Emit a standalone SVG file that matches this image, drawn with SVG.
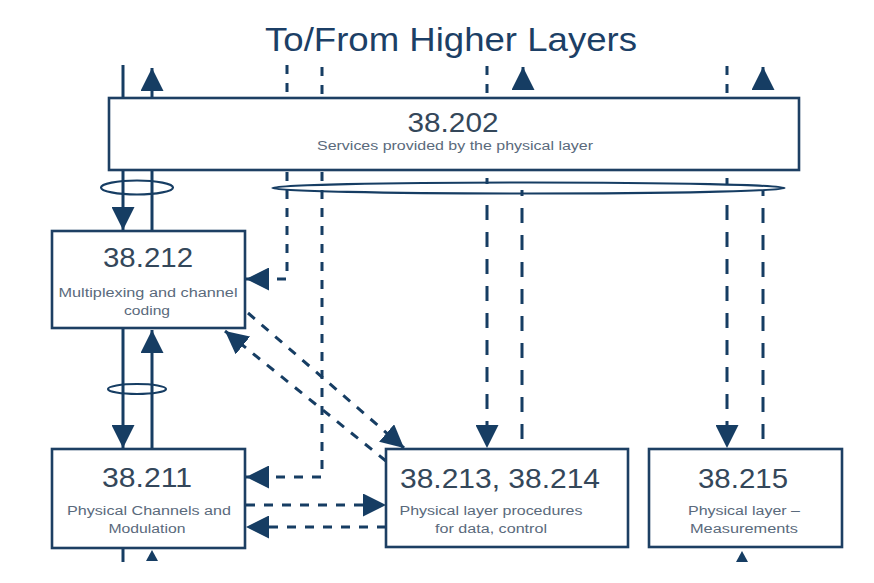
<svg xmlns="http://www.w3.org/2000/svg" width="874" height="583" viewBox="0 0 874 583">
<style>
.box{fill:#fff;stroke:#1d3f63;stroke-width:2.6}
.ln{fill:none;stroke:#163d63;stroke-width:3}
.sd{stroke-dasharray:9 9}
.ld{stroke-dasharray:15 12}
.el{fill:none;stroke:#163d63;stroke-width:2.2}
.num{font-family:"Liberation Sans",Arial,sans-serif;font-size:28px;fill:#34475a;text-anchor:middle}
.sub{font-family:"Liberation Sans",Arial,sans-serif;font-size:12px;fill:#5a6a7c;text-anchor:middle}
.title{font-family:"Liberation Sans",Arial,sans-serif;font-size:34px;fill:#1c3f66;text-anchor:middle}
.tri{fill:#163d63}
</style>
<defs>
<marker id="arr" markerUnits="userSpaceOnUse" markerWidth="23" markerHeight="23" viewBox="0 0 23 23" refX="23" refY="11.5" orient="auto">
<path d="M0,0 L23,11.5 L0,23 z" fill="#163d63"/>
</marker>
</defs>
<rect width="874" height="583" fill="#fff"/>
<text class="title" x="451" y="51" textLength="372" lengthAdjust="spacingAndGlyphs">To/From Higher Layers</text>
<g id="connectors">
<line class="ln" x1="123" y1="65" x2="123" y2="98"/>
<line class="ln" x1="152" y1="98" x2="152" y2="68" marker-end="url(#arr)"/>
<line class="ln sd" x1="287" y1="65" x2="287" y2="98"/>
<line class="ln sd" x1="322" y1="67" x2="322" y2="98"/>
<line class="ln sd" x1="487" y1="66" x2="487" y2="98"/>
<line class="ln" x1="523" y1="90" x2="523" y2="67" marker-end="url(#arr)"/>
<line class="ln sd" x1="727" y1="66" x2="727" y2="98"/>
<line class="ln" x1="763" y1="90" x2="763" y2="67" marker-end="url(#arr)"/>
<line class="ln" x1="123" y1="170" x2="123" y2="230" marker-end="url(#arr)"/>
<line class="ln" x1="152" y1="230" x2="152" y2="170"/>
<ellipse class="el" cx="137" cy="187.5" rx="36" ry="7"/>
<polyline class="ln sd" points="287,172 287,279 246,279" marker-end="url(#arr)"/>
<polyline class="ln sd" points="322,172 322,477 246,477" marker-end="url(#arr)"/>
<line class="ln" x1="487" y1="178" x2="487" y2="184"/>
<line class="ln" x1="727" y1="178" x2="727" y2="184"/>
<line class="ln" x1="522" y1="190" x2="522" y2="196"/>
<line class="ln" x1="763" y1="190" x2="763" y2="196"/>
<line class="ln ld" x1="487" y1="205" x2="487" y2="448" marker-end="url(#arr)"/>
<line class="ln ld" x1="522" y1="208" x2="522" y2="449"/>
<line class="ln ld" x1="727" y1="205" x2="727" y2="448" marker-end="url(#arr)"/>
<line class="ln ld" x1="763" y1="208" x2="763" y2="449"/>
<ellipse class="el" cx="528.5" cy="188" rx="256" ry="5.5"/>
<line class="ln" x1="123" y1="328" x2="123" y2="448" marker-end="url(#arr)"/>
<line class="ln" x1="152" y1="449" x2="152" y2="330" marker-end="url(#arr)"/>
<ellipse class="el" cx="137" cy="389" rx="29" ry="5"/>
<line class="ln sd" x1="248" y1="313" x2="404" y2="448" marker-end="url(#arr)"/>
<line class="ln sd" x1="386" y1="461" x2="225" y2="331" marker-end="url(#arr)"/>
<line class="ln sd" x1="246" y1="505" x2="386" y2="505" marker-end="url(#arr)"/>
<line class="ln sd" x1="386" y1="527" x2="246" y2="527" marker-end="url(#arr)"/>
<line class="ln" x1="123" y1="548" x2="123" y2="562"/>
<polygon class="tri" points="146,561 158,561 152,550"/>
<polygon class="tri" points="736,562 748,562 742,551"/>
</g>
<g id="n38202">
<rect class="box" x="109" y="98" width="690" height="72"/>
<text class="num" x="453" y="132" textLength="91" lengthAdjust="spacingAndGlyphs">38.202</text>
<text class="sub" x="455" y="150" textLength="276" lengthAdjust="spacingAndGlyphs">Services provided by the physical layer</text>
</g>
<g id="n38212">
<rect class="box" x="52" y="231" width="193" height="97"/>
<text class="num" x="148" y="267" textLength="90" lengthAdjust="spacingAndGlyphs">38.212</text>
<text class="sub" x="148" y="297" textLength="179" lengthAdjust="spacingAndGlyphs">Multiplexing and channel</text>
<text class="sub" x="147" y="315" textLength="46" lengthAdjust="spacingAndGlyphs">coding</text>
</g>
<g id="n38211">
<rect class="box" x="52" y="449" width="193" height="99"/>
<text class="num" x="147" y="487" textLength="90" lengthAdjust="spacingAndGlyphs">38.211</text>
<text class="sub" x="149" y="515" textLength="164" lengthAdjust="spacingAndGlyphs">Physical Channels and</text>
<text class="sub" x="147" y="533" textLength="77" lengthAdjust="spacingAndGlyphs">Modulation</text>
</g>
<g id="n38213">
<rect class="box" x="386" y="449" width="242" height="98"/>
<text class="num" x="500" y="488" textLength="200" lengthAdjust="spacingAndGlyphs">38.213, 38.214</text>
<text class="sub" x="491" y="515" textLength="183" lengthAdjust="spacingAndGlyphs">Physical layer procedures</text>
<text class="sub" x="491" y="533" textLength="112" lengthAdjust="spacingAndGlyphs">for data, control</text>
</g>
<g id="n38215">
<rect class="box" x="649" y="449" width="193" height="98"/>
<text class="num" x="743" y="488" textLength="90" lengthAdjust="spacingAndGlyphs">38.215</text>
<text class="sub" x="744" y="515" textLength="112" lengthAdjust="spacingAndGlyphs">Physical layer –</text>
<text class="sub" x="744" y="533" textLength="108" lengthAdjust="spacingAndGlyphs">Measurements</text>
</g>
</svg>
